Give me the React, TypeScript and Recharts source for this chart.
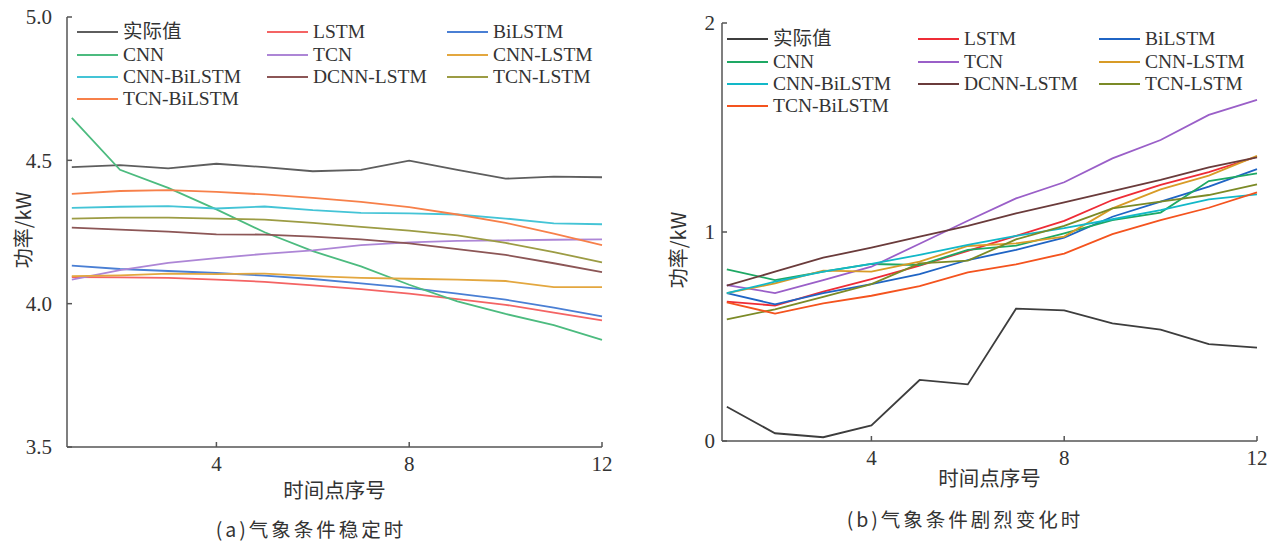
import { LineChart, Line, XAxis, YAxis, Legend } from "recharts"

// time steps on the x axis
const steps = [1, 2, 3, 4, 5, 6, 7, 8, 9, 10, 11, 12]

const seriesNames = [
  "实际值", "LSTM", "BiLSTM",
  "CNN", "TCN", "CNN-LSTM",
  "CNN-BiLSTM", "DCNN-LSTM", "TCN-LSTM",
  "TCN-BiLSTM",
]

// (a) stable weather
const actualA = [4.476, 4.483, 4.472, 4.488, 4.476, 4.462, 4.467, 4.499, 4.467, 4.436, 4.443, 4.441]
const lstmA = [4.093, 4.092, 4.09, 4.084, 4.076, 4.064, 4.051, 4.035, 4.016, 3.996, 3.969, 3.942]
const bilstmA = [4.133, 4.121, 4.114, 4.107, 4.098, 4.086, 4.071, 4.055, 4.035, 4.014, 3.986, 3.956]
const cnnA = [4.648, 4.467, 4.404, 4.329, 4.249, 4.183, 4.13, 4.066, 4.008, 3.964, 3.925, 3.874]
const tcnA = [4.084, 4.117, 4.142, 4.159, 4.174, 4.186, 4.204, 4.214, 4.219, 4.221, 4.223, 4.224]
const cnnLstmA = [4.096, 4.099, 4.105, 4.103, 4.105, 4.096, 4.09, 4.087, 4.084, 4.079, 4.058, 4.058]
const cnnBilstmA = [4.334, 4.338, 4.34, 4.332, 4.339, 4.326, 4.317, 4.315, 4.311, 4.297, 4.28, 4.277]
const dcnnLstmA = [4.265, 4.258, 4.251, 4.242, 4.241, 4.234, 4.224, 4.21, 4.19, 4.17, 4.141, 4.11]
const tcnLstmA = [4.297, 4.3, 4.3, 4.297, 4.293, 4.282, 4.268, 4.255, 4.238, 4.212, 4.18, 4.144]
const tcnBilstmA = [4.383, 4.393, 4.396, 4.39, 4.381, 4.369, 4.355, 4.337, 4.311, 4.282, 4.244, 4.204]

// (b) strongly changing weather
const actualB = [0.164, 0.037, 0.018, 0.075, 0.292, 0.271, 0.633, 0.625, 0.563, 0.533, 0.463, 0.447]
const lstmB = [0.667, 0.648, 0.715, 0.774, 0.839, 0.91, 0.981, 1.053, 1.153, 1.225, 1.286, 1.36]
const bilstmB = [0.707, 0.654, 0.707, 0.751, 0.799, 0.866, 0.914, 0.973, 1.073, 1.145, 1.217, 1.301]
const cnnB = [0.821, 0.77, 0.81, 0.847, 0.842, 0.914, 0.935, 0.994, 1.057, 1.093, 1.244, 1.281]
const tcnB = [0.746, 0.708, 0.77, 0.834, 0.944, 1.054, 1.161, 1.238, 1.352, 1.44, 1.56, 1.632]
const cnnLstmB = [0.707, 0.754, 0.815, 0.81, 0.858, 0.933, 0.946, 0.978, 1.113, 1.204, 1.27, 1.364]
const cnnBilstmB = [0.707, 0.762, 0.81, 0.847, 0.89, 0.938, 0.981, 1.018, 1.061, 1.105, 1.156, 1.18]
const dcnnLstmB = [0.743, 0.81, 0.877, 0.925, 0.978, 1.029, 1.089, 1.142, 1.196, 1.249, 1.309, 1.357]
const tcnLstmB = [0.582, 0.63, 0.69, 0.751, 0.85, 0.863, 0.965, 1.029, 1.113, 1.145, 1.177, 1.228]
const tcnBilstmB = [0.663, 0.61, 0.658, 0.695, 0.741, 0.807, 0.845, 0.897, 0.99, 1.057, 1.116, 1.19]

const ticksA = [3.5, 4.0, 4.5, 5.0]
const ticksB = [0, 1, 2]
const xTicks = [4, 8, 12]

const colorsA = ["#5e5e5e", "#f46464", "#4a7fd4", "#4cbb7f", "#ad86d6", "#e3a73f", "#44c4d6", "#8c5656", "#9c9c44", "#f7804a"]
const colorsB = ["#3d3d3d", "#ee2c36", "#1f64c4", "#1ea864", "#9a5fc8", "#d89b26", "#12b8c8", "#6a3b3b", "#7b8a26", "#f4531e"]

const serif = "'Liberation Serif', 'Noto Sans CJK SC', serif"
const cjk = "'Noto Sans CJK SC', 'Liberation Serif', sans-serif"

function buildRows(values: number[][]) {
  return steps.map((t, i) => {
    const row: Record<string, number> = { t }
    seriesNames.forEach((name, k) => {
      row[name] = values[k][i]
    })
    return row
  })
}

const rowsA = buildRows([actualA, lstmA, bilstmA, cnnA, tcnA, cnnLstmA, cnnBilstmA, dcnnLstmA, tcnLstmA, tcnBilstmA])
const rowsB = buildRows([actualB, lstmB, bilstmB, cnnB, tcnB, cnnLstmB, cnnBilstmB, dcnnLstmB, tcnLstmB, tcnBilstmB])

function LegendGrid({ colors, cols }: { colors: string[]; cols: number[] }) {
  return (
    <div style={{ display: "grid", gridTemplateColumns: cols.map((c) => c + "px").join(" ") }}>
      {seriesNames.map((name, i) => (
        <div key={name} style={{ display: "flex", alignItems: "center", height: 22.4 }}>
          <div style={{ width: 41, height: 2, flexShrink: 0, background: colors[i], marginRight: 5 }} />
          <span style={{ fontFamily: serif, fontSize: 19.5, lineHeight: "22px", color: "#333", whiteSpace: "nowrap" }}>
            {name}
          </span>
        </div>
      ))}
    </div>
  )
}

const tickFont = "Liberation Serif"

const xTick = (props: any) => (
  <text
    x={props.x}
    y={props.y}
    dy="0.78em"
    textAnchor="middle"
    fontFamily={tickFont}
    fontSize={21}
    fill="#333"
  >
    {props.payload.value}
  </text>
)

type PanelProps = {
  rows: Record<string, number>[]
  colors: string[]
  width: number
  margin: { top: number; right: number; bottom: number; left: number }
  yDomain: [number, number]
  yTicks: number[]
  yFormat: (v: number) => string
  yTickMargin: number
  yLabelY: number
  xLabelOffset: number
  legendPos: { top: number; left: number }
  legendCols: number[]
}

function Panel(p: PanelProps) {
  const axisStroke = { stroke: "#555", strokeWidth: 1.5 }
  const yTick = (props: any) => (
    <text
      x={props.x}
      y={props.y}
      dy="0.35em"
      textAnchor="end"
      fontFamily={tickFont}
      fontSize={21}
      fill="#333"
    >
      {p.yFormat(props.payload.value)}
    </text>
  )
  return (
    <LineChart width={p.width} height={544} data={p.rows} margin={p.margin}>
      <XAxis
        dataKey="t"
        type="number"
        domain={[0.9, 12]}
        ticks={xTicks}
        axisLine={axisStroke}
        tickLine={axisStroke}
        tickSize={-5}
        tickMargin={13}
        height={52}
        tick={xTick}
        label={{
          value: "时间点序号",
          position: "insideBottom",
          offset: p.xLabelOffset,
          style: { fontFamily: cjk, fontSize: 20.5, fill: "#333" },
        }}
      />
      <YAxis
        type="number"
        domain={p.yDomain}
        ticks={p.yTicks}
        width={67}
        axisLine={axisStroke}
        tickLine={axisStroke}
        tickSize={-5}
        tickMargin={p.yTickMargin}
        tick={yTick}
        label={{
          content: () => (
            <text
              x={22}
              y={p.yLabelY}
              transform={`rotate(-90 22 ${p.yLabelY})`}
              textAnchor="middle"
              dominantBaseline="central"
              style={{ fontFamily: cjk, fontSize: 20, fill: "#333" }}
            >
              功率/kW
            </text>
          ),
        }}
      />
      <Legend
        layout="vertical"
        align="center"
        verticalAlign="middle"
        wrapperStyle={{ top: p.legendPos.top, left: p.legendPos.left, width: "auto" }}
        content={() => <LegendGrid colors={p.colors} cols={p.legendCols} />}
      />
      {seriesNames.map((name, i) => (
        <Line
          key={name}
          type="linear"
          dataKey={name}
          stroke={p.colors[i]}
          strokeWidth={1.8}
          dot={false}
          isAnimationActive={false}
        />
      ))}
    </LineChart>
  )
}

export default function App() {
  return (
    <div style={{ position: "absolute", left: 0, top: 0, width: 1276, height: 544, background: "#fff", overflow: "hidden" }}>
      <div style={{ position: "absolute", left: 0, top: 0 }}>
        <Panel
          rows={rowsA}
          colors={colorsA}
          width={620}
          margin={{ top: 17, right: 18, bottom: 45, left: 0 }}
          yDomain={[3.5, 5.0]}
          yTicks={ticksA}
          yFormat={(v) => v.toFixed(1)}
          yTickMargin={20}
          yLabelY={230}
          xLabelOffset={1}
          legendPos={{ top: 21, left: 77 }}
          legendCols={[190, 180, 160]}
        />
      </div>
      <div style={{ position: "absolute", left: 655, top: 0 }}>
        <Panel
          rows={rowsB}
          colors={colorsB}
          width={621}
          margin={{ top: 23, right: 19, bottom: 51, left: 0 }}
          yDomain={[0, 2]}
          yTicks={ticksB}
          yFormat={(v) => String(v)}
          yTickMargin={12}
          yLabelY={250}
          xLabelOffset={7}
          legendPos={{ top: 28, left: 72 }}
          legendCols={[191, 181, 160]}
        />
      </div>
      <div style={{ position: "absolute", left: 0, width: 622, top: 514, textAlign: "center", fontFamily: cjk, fontSize: 19.5, letterSpacing: 3, color: "#333" }}>
        (a)气象条件稳定时
      </div>
      <div style={{ position: "absolute", left: 655, width: 620, top: 504, textAlign: "center", fontFamily: cjk, fontSize: 19.5, letterSpacing: 3, color: "#333" }}>
        (b)气象条件剧烈变化时
      </div>
    </div>
  )
}
